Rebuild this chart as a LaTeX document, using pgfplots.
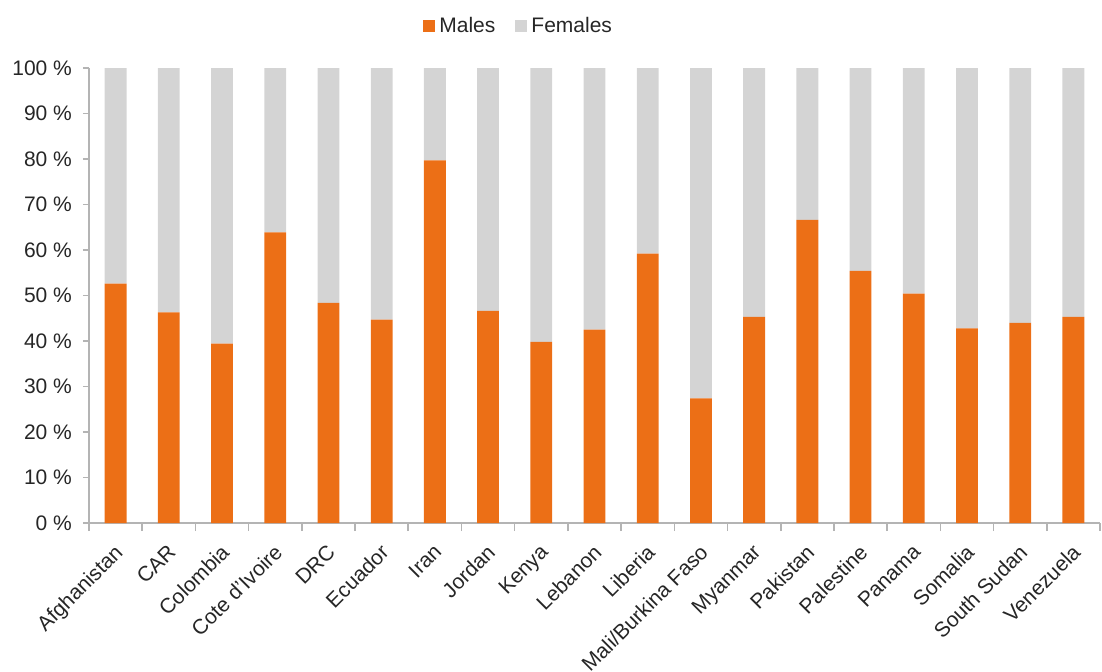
\documentclass[border=0pt]{standalone}
\usepackage{pgfplots}
\pgfplotsset{compat=1.18}
\usepackage{pgfplotstable}
\usepackage{fontspec}
\setmainfont{Liberation Sans}
\definecolor{males}{RGB}{236,111,22}
\definecolor{females}{RGB}{212,212,212}
\definecolor{axgray}{RGB}{180,180,180}
\definecolor{txt}{RGB}{38,38,38}
\pgfplotstableread{
x male female
0 52.6 47.4
1 46.3 53.7
2 39.4 60.6
3 63.9 36.1
4 48.4 51.6
5 44.7 55.3
6 79.7 20.3
7 46.6 53.4
8 39.8 60.2
9 42.5 57.5
10 59.2 40.8
11 27.4 72.6
12 45.3 54.7
13 66.6 33.4
14 55.4 44.6
15 50.4 49.6
16 42.8 57.2
17 44.0 56.0
18 45.3 54.7
}\datatable
\begin{document}
\fontsize{10}{12}\selectfont
\begin{tikzpicture}
\begin{axis}[
  name=ax, at={(0,0)}, anchor=south west,
  scale only axis, width=505.5pt, height=227.5pt,
  ybar stacked, bar width=0.41,
  xmin=-0.5, xmax=18.5, ymin=0, ymax=100,
  axis x line*=bottom, axis y line*=left,
  axis line style={axgray, line width=0.8pt},
  xtick={0,...,18},
  xticklabels={Afghanistan,CAR,Colombia,Cote d'Ivoire,DRC,Ecuador,Iran,Jordan,Kenya,Lebanon,Liberia,Mali/Burkina Faso,Myanmar,Pakistan,Palestine,Panama,Somalia,South Sudan,Venezuela},
  major x tick style={draw=none},
  minor xtick={-0.5,0.5,...,18.5},
  minor x tick style={axgray, line width=0.8pt},
  minor tick length=4pt,
  ytick={0,10,...,100},
  major y tick style={axgray, line width=0.8pt},
  major tick length=3pt,
  tick align=outside,
  yticklabel={\pgfmathprintnumber{\tick}\ \%},
  /pgf/number format/assume math mode=true,
  ticklabel style={font=\fontsize{10.5}{12}\selectfont, text=txt},
  xticklabel style={rotate=45, anchor=north east, xshift=-2.35pt, yshift=-0.65pt},
  yticklabel style={xshift=-2pt},
  legend style={at={(axis description cs:0.426,1)}, anchor=center, yshift=21pt,
    draw=none, fill=none, legend columns=2, font=\fontsize{10.5}{12}\selectfont, text=txt,
    /tikz/every even column/.append style={column sep=8pt}},
  legend image code/.code={\fill[#1] (0pt,-3pt) rectangle (6pt,3pt);},
  legend cell align=left,
]
\addplot[fill=males, draw=none] table[x=x, y=male] {\datatable};
\addplot[fill=females, draw=none] table[x=x, y=female] {\datatable};
\legend{Males, Females}
\end{axis}
\pgfresetboundingbox
\useasboundingbox (-44.5pt,-74pt) rectangle (506.5pt,261.5pt);
\end{tikzpicture}
\end{document}
